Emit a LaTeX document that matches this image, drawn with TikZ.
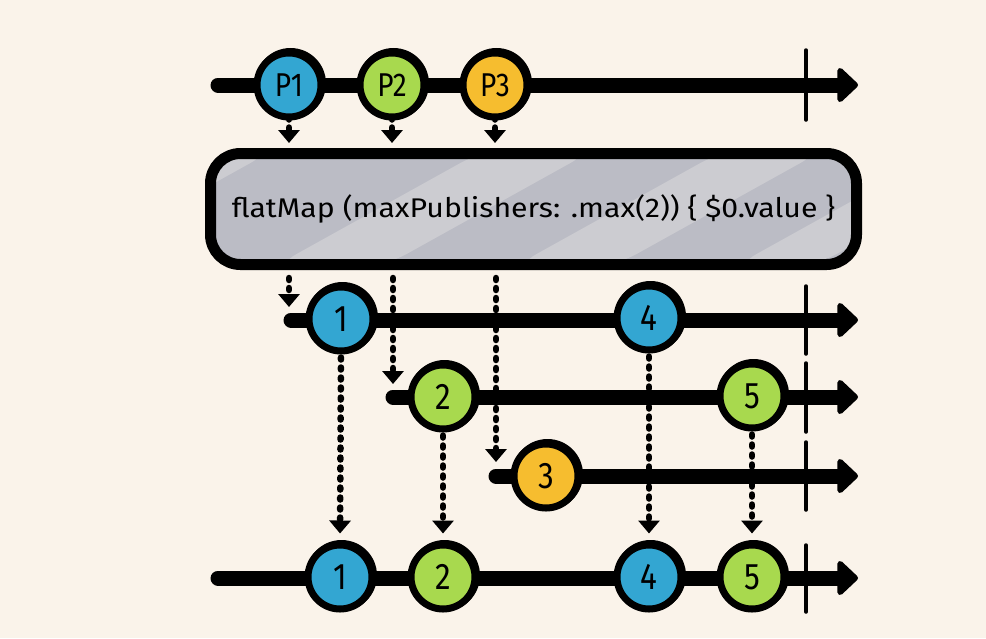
\documentclass[tikz,border=0pt]{standalone}
\usepackage{fontspec}
\setmainfont{Fira Sans}
\newfontfamily\hand[FakeStretch=0.85]{Fira Sans}
\newfontfamily\handwide[FakeStretch=1.12]{Fira Sans}
\usetikzlibrary{arrows.meta,calc}
\definecolor{bg}{HTML}{FAF3EA}
\definecolor{pblue}{HTML}{33A6D2}
\definecolor{pgreen}{HTML}{A8D94E}
\definecolor{pyellow}{HTML}{F6BD2F}
\definecolor{boxgray}{HTML}{BBBCC5}
\definecolor{boxlight}{HTML}{CCCCD1}
\tikzset{
  timeline/.style={line width=15pt, line cap=round, -{Triangle[width=40pt,length=22pt,round]}},
  endbar/.style={line width=3.5pt, line cap=round},
  ball/.style={circle, draw=black, line width=7pt, minimum size=64pt, inner sep=0pt,
    preaction={draw=black, line width=7pt, transform canvas={shift={(1.5pt,1.5pt)}}},
    font=\hand\fontsize{37}{37}\selectfont},
  pball/.style={ball, font=\hand\fontsize{33}{33}\selectfont},
  dotconn/.style={line width=6.5pt, dash pattern=on 2pt off 8pt, line cap=round,
    -{Triangle[width=21pt,length=13pt]}},
  opbox/.style={draw=black, line width=11pt, fill=boxgray, rounded corners=30pt,
    minimum width=646pt, minimum height=111pt, inner sep=0pt,
    font=\handwide\fontsize{27}{27}\selectfont},
}
\begin{document}
\begin{tikzpicture}[x=1pt,y=-1pt]
\fill[bg] (0,0) rectangle (986,638);
\useasboundingbox (0,0) rectangle (986,638);

% timelines
\coordinate (ts) at (218,85);  \coordinate (te) at (858,85);
\coordinate (r1s) at (291,320); \coordinate (r1e) at (858,320);
\coordinate (r2s) at (393,397); \coordinate (r2e) at (858,397);
\coordinate (r3s) at (496,476); \coordinate (r3e) at (858,476);
\coordinate (bs) at (218,578);  \coordinate (be) at (858,578);
\draw[timeline] (ts) -- (te);
\draw[timeline] (r1s) -- (r1e);
\draw[timeline] (r2s) -- (r2e);
\draw[timeline] (r3s) -- (r3e);
\draw[timeline] (bs) -- (be);

% completion bars
\draw[endbar] (806,50) -- (806,120);
\draw[endbar] (806,286) -- (806,354);
\draw[endbar] (806,363) -- (806,432);
\draw[endbar] (806,442) -- (806,510);
\draw[endbar] (806,545) -- (806,612);

% operator box
\node[opbox, path picture={
  \fill[boxlight] ([shift={(-300,115)}]path picture bounding box.north west) -- ++(216,-120) -- ++(150,0) -- ++(-216,120) -- cycle;
  \fill[boxlight] ([shift={(60,115)}]path picture bounding box.north west) -- ++(216,-120) -- ++(110,0) -- ++(-216,120) -- cycle;
  \fill[boxlight] ([shift={(300,115)}]path picture bounding box.north west) -- ++(216,-120) -- ++(100,0) -- ++(-216,120) -- cycle;
  \fill[boxlight] ([shift={(520,115)}]path picture bounding box.north west) -- ++(216,-120) -- ++(80,0) -- ++(-216,120) -- cycle;
}] (op) at (533.5,209) {flatMap (maxPublishers: .max(2)) \{ \$0.value \}};

% source publishers
\node[pball, fill=pblue]   (p1) at (289,85) {P1};
\node[pball, fill=pgreen]  (p2) at (392,85) {P2};
\node[pball, fill=pyellow] (p3) at (495,85) {P3};

% arrows into operator
\draw[dotconn, shorten <=-3pt, shorten >=5pt] (p1.south) -- (p1 |- op.north);
\draw[dotconn, shorten <=-3pt, shorten >=5pt] (p2.south) -- (p2 |- op.north);
\draw[dotconn, shorten <=-3pt, shorten >=5pt] (p3.south) -- (p3 |- op.north);

% arrows from operator to inner streams
\coordinate (k1) at (289,307);
\coordinate (k2) at (393,384);
\coordinate (k3) at (496,462);
\draw[dotconn, shorten <=8pt] (p1 |- op.south) -- (k1);
\draw[dotconn, shorten <=8pt] (k2 |- op.south) -- (k2);
\draw[dotconn, shorten <=8pt] (k3 |- op.south) -- (k3);

% inner stream values
\node[ball, fill=pblue]   (c1) at (341,319) {1};
\node[ball, fill=pblue]   (c4) at (649,318) {4};
\node[ball, fill=pgreen]  (c2) at (443,397) {2};
\node[ball, fill=pgreen]  (c5) at (752,396) {5};
\node[ball, fill=pyellow] (c3) at (546,476) {3};

% output values
\node[ball, fill=pblue]  (b1) at (340,577) {1};
\node[ball, fill=pgreen] (b2) at (443,577) {2};
\node[ball, fill=pblue]  (b4) at (649,577) {4};
\node[ball, fill=pgreen] (b5) at (752,577) {5};

% arrows to output
\draw[dotconn, shorten <=3pt, shorten >=8pt] (c1.south) -- (b1.north);
\draw[dotconn, shorten <=3pt, shorten >=8pt] (c2.south) -- (b2.north);
\draw[dotconn, shorten <=3pt, shorten >=8pt] (c4.south) -- (b4.north);
\draw[dotconn, shorten <=3pt, shorten >=8pt] (c5.south) -- (b5.north);
\end{tikzpicture}
\end{document}
